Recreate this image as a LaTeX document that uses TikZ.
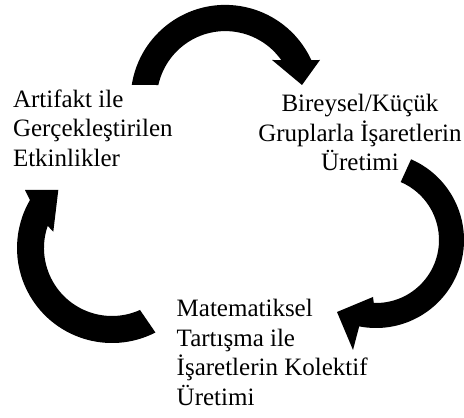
\documentclass[tikz,border=0pt]{standalone}
\usepackage{fontspec}
\setmainfont{Liberation Serif}
\begin{document}
\begin{tikzpicture}[x=1pt,y=1pt,
  band/.style={fill=black,draw=none},
  lbl/.style={inner sep=0pt,outer sep=0pt,font=\fontsize{25}{29.5}\selectfont}]
\useasboundingbox (0,0) rectangle (464,418);
% centres of the three curved arrows
\coordinate (c1) at (225.3,318.4);
\coordinate (c2) at (376,178);
\coordinate (c3) at (112,170);
% top arrow
\fill[band,shift={(c1)}] (171.1:94.7) arc[start angle=171.1,end angle=24.7,radius=94.7]
  -- (94.7,39.6) -- (76.7,14.6) -- (46.7,39.6) -- (35.3:68.5)
  arc[start angle=35.3,end angle=167.7,radius=68.5] -- cycle;
% right arrow
\fill[band,shift={(c2)}] (66.5:88) arc[start angle=66.5,end angle=-101,radius=88]
  -- (-23,-110) -- (-39,-72) -- (-3,-57) -- (-92:63)
  arc[start angle=-92,end angle=66.9,radius=63] -- cycle;
% bottom-left arrow
\fill[band,shift={(c3)}] (-87,58) -- (-53.7,58) -- (-58.7,16.3) -- (161:68)
  arc[start angle=161,end angle=294.3,radius=68] -- (297.2:95)
  arc[start angle=297.2,end angle=149.7,radius=95] -- cycle;
% labels (base anchor = baseline of the last line)
\node[lbl,align=left,anchor=base west] (a) at (13,251.7)
  {Artifakt ile\\Gerçekleştirilen\\Etkinlikler};
\node[lbl,align=center,anchor=base] (b) at (360,247.3)
  {Bireysel/Küçük\\Gruplarla İşaretlerin\\Üretimi};
\node[lbl,align=left,anchor=base west] (m) at (176.7,12.8)
  {Matematiksel\\Tartışma ile\\İşaretlerin Kolektif\\Üretimi};
\end{tikzpicture}
\end{document}
